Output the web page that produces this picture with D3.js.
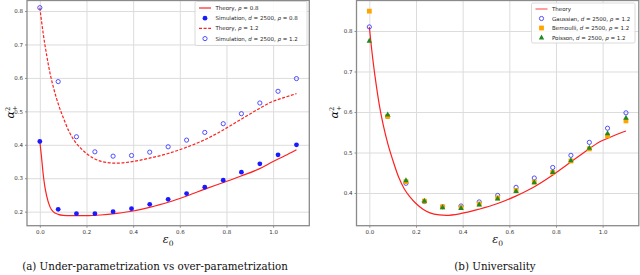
<!DOCTYPE html>
<html>
<head>
<meta charset="utf-8">
<script src="https://cdn.jsdelivr.net/npm/d3@7"></script>
<style>
  body { margin: 0; background: #fff; }
  svg { display: block; }
  .tick text { font-family: "DejaVu Sans", sans-serif; font-size: 5.5px; fill: #333; }
  .tick line { stroke: #444; stroke-width: 0.6; }
  .grid line { stroke: #dcdcdc; stroke-width: 1; }
  .legend text { font-family: "DejaVu Sans", sans-serif; font-size: 5.5px; fill: #222; }
</style>
</head>
<body>
<svg id="fig" width="640" height="275"></svg>
<script>
/*******************************/
/*            Data             */
/*******************************/

var eps = [0, 0.0786, 0.157, 0.236, 0.314, 0.393, 0.471, 0.55, 0.629, 0.707, 0.786, 0.864, 0.943, 1.021, 1.1];

var sim_08   = [0.41, 0.207, 0.194, 0.194, 0.200, 0.209, 0.222, 0.237, 0.254, 0.273, 0.294, 0.318, 0.343, 0.370, 0.400];
var gaussian = [0.81, 0.589, 0.424, 0.379, 0.366, 0.368, 0.378, 0.394, 0.414, 0.437, 0.463, 0.493, 0.525, 0.560, 0.598];
var bernoulli = [0.849, 0.589, 0.428, 0.380, 0.366, 0.364, 0.373, 0.388, 0.406, 0.427, 0.451, 0.479, 0.509, 0.541, 0.578];
var poisson  = [0.776, 0.594, 0.432, 0.381, 0.365, 0.363, 0.372, 0.387, 0.405, 0.427, 0.452, 0.481, 0.512, 0.548, 0.586];

var theory_x_08 = [0, 0.007, 0.014, 0.021, 0.029, 0.043, 0.057, 0.079, 0.1, 0.13, 0.2, 0.26, 0.33, 0.4, 0.47, 0.55, 0.63, 0.71, 0.79, 0.86, 0.94, 1.0, 1.05, 1.1];
var theory_y_08 = [0.41, 0.365, 0.315, 0.277, 0.248, 0.215, 0.200, 0.192, 0.189, 0.188, 0.188, 0.190, 0.195, 0.202, 0.213, 0.228, 0.247, 0.268, 0.288, 0.306, 0.328, 0.350, 0.367, 0.385];

var theory_x_12 = [0, 0.015, 0.03, 0.045, 0.06, 0.08, 0.1, 0.125, 0.15, 0.175, 0.2, 0.23, 0.26, 0.3, 0.33, 0.39, 0.47, 0.55, 0.63, 0.7, 0.78, 0.85, 0.92, 0.99, 1.05, 1.1];
var theory_y_12 = [0.81, 0.73, 0.665, 0.61, 0.567, 0.52, 0.482, 0.44, 0.41, 0.39, 0.374, 0.36, 0.351, 0.346, 0.345, 0.349, 0.36, 0.374, 0.393, 0.413, 0.442, 0.471, 0.50, 0.527, 0.542, 0.553];

var x_ticks = [0, 0.2, 0.4, 0.6, 0.8, 1.0];
var y_ticks_a = [0.2, 0.3, 0.4, 0.5, 0.6, 0.7, 0.8];
var y_ticks_b = [0.4, 0.5, 0.6, 0.7, 0.8];

var caption_a = "(a) Under-parametrization vs over-parametrization";
var caption_b = "(b) Universality";

/*******************************/
/*        Panel helpers        */
/*******************************/

var svg = d3.select("#fig");
var fmt = d3.format(".1f");

function make_panel(opt) {
  var x = d3.scaleLinear().domain([-0.055, 1.155]).range([opt.left, opt.right]);
  var y = d3.scaleLinear().domain(opt.ydomain).range([opt.bottom, opt.top]);
  var g = svg.append("g");
  var top = Math.max(opt.top, 0.5);

  // grid
  g.append("g").attr("class", "grid")
    .attr("transform", "translate(0," + opt.bottom + ")")
    .call(d3.axisBottom(x).tickValues(x_ticks).tickSize(-(opt.bottom - top)).tickFormat(""))
    .call(function(s) { s.select(".domain").remove(); });
  g.append("g").attr("class", "grid")
    .attr("transform", "translate(" + opt.left + ",0)")
    .call(d3.axisLeft(y).tickValues(opt.yticks).tickSize(-(opt.right - opt.left)).tickFormat(""))
    .call(function(s) { s.select(".domain").remove(); });

  // axes
  g.append("g")
    .attr("transform", "translate(0," + opt.bottom + ")")
    .call(d3.axisBottom(x).tickValues(x_ticks).tickSize(2).tickPadding(2).tickFormat(fmt))
    .call(function(s) { s.select(".domain").remove(); });
  g.append("g")
    .attr("transform", "translate(" + opt.left + ",0)")
    .call(d3.axisLeft(y).tickValues(opt.yticks).tickSize(2).tickPadding(2).tickFormat(fmt))
    .call(function(s) { s.select(".domain").remove(); });

  // frame
  g.append("rect")
    .attr("x", opt.left).attr("y", top)
    .attr("width", opt.right - opt.left).attr("height", opt.bottom - top)
    .attr("fill", "none").attr("stroke", "#8a8a8a").attr("stroke-width", 1.3);

  // y label  alpha^2_+
  var yl = g.append("text")
    .attr("transform", "translate(" + opt.ylabel_x + "," + opt.ylabel_y + ") rotate(-90)")
    .attr("text-anchor", "middle")
    .style("font-family", "DejaVu Serif, serif").style("font-style", "italic")
    .style("font-size", "11px").attr("fill", "#111");
  yl.append("tspan").text("α");
  yl.append("tspan").attr("dy", -4).style("font-size", "6.5px").style("font-style", "normal").text("2");
  yl.append("tspan").attr("dx", -4).attr("dy", 7).style("font-size", "6.5px").style("font-style", "normal").text("+");

  // x label epsilon_0
  var xl = g.append("text")
    .attr("x", (opt.left + opt.right) / 2).attr("y", 243)
    .attr("text-anchor", "middle")
    .style("font-family", "DejaVu Serif, serif").style("font-style", "italic")
    .style("font-size", "11px").attr("fill", "#111");
  xl.append("tspan").text("ε");
  xl.append("tspan").attr("dy", 2.5).style("font-size", "7.5px").style("font-style", "normal").text("0");

  // caption
  svg.append("text")
    .attr("x", opt.caption_x).attr("y", 270)
    .attr("text-anchor", "middle")
    .style("font-family", "DejaVu Serif, serif").style("font-size", "10.3px")
    .attr("fill", "#111")
    .text(opt.caption);

  return { g: g, x: x, y: y };
}

function theory_path(p, xs, ys, dash) {
  var line = d3.line()
    .x(function(d) { return p.x(d[0]); })
    .y(function(d) { return p.y(d[1]); })
    .curve(d3.curveMonotoneX);
  p.g.append("path")
    .datum(d3.zip(xs, ys))
    .attr("d", line)
    .attr("fill", "none")
    .attr("stroke", "#ff2020")
    .attr("stroke-width", 1.2)
    .attr("stroke-dasharray", dash ? "3,1.6" : null);
}

function marker(sel, type) {
  if (type == "filled") {
    sel.append("circle").attr("r", 2.4).attr("fill", "#1a1aff");
  } else if (type == "open") {
    sel.append("circle").attr("r", 2.1).attr("fill", "none").attr("stroke", "#3d3dff").attr("stroke-width", 0.9);
  } else if (type == "square") {
    sel.append("rect").attr("x", -2.4).attr("y", -2.4).attr("width", 4.8).attr("height", 4.8).attr("fill", "#ffa500");
  } else if (type == "triangle") {
    sel.append("path").attr("d", "M0,-2.9L2.7,2.1L-2.7,2.1Z").attr("fill", "#1f8a1f");
  }
}

function scatter(p, ys, type) {
  p.g.selectAll(null)
    .data(d3.zip(eps, ys))
    .enter()
    .append("g")
    .attr("transform", function(d) { return "translate(" + p.x(d[0]) + "," + p.y(d[1]) + ")"; })
    .each(function() { marker(d3.select(this), type); });
}

// label entries: [plain, italic, plain, italic, plain]
function legend(p, box, items) {
  var lg = p.g.append("g").attr("class", "legend");
  lg.append("rect")
    .attr("x", box.x).attr("y", box.y).attr("width", box.w).attr("height", box.h)
    .attr("rx", 1.5).attr("fill", "#fff").attr("fill-opacity", 0.85)
    .attr("stroke", "#d0d0d0").attr("stroke-width", 0.8);
  items.forEach(function(it, i) {
    var cy = box.y + box.first + i * box.step;
    var hx0 = box.x + 4, hx1 = box.x + 16;
    if (it.type == "line" || it.type == "dash") {
      lg.append("line")
        .attr("x1", hx0).attr("x2", hx1).attr("y1", cy).attr("y2", cy)
        .attr("stroke", it.color || "#ff2020").attr("stroke-width", 1.2)
        .attr("stroke-dasharray", it.type == "dash" ? "3,1.6" : null);
    } else {
      marker(lg.append("g").attr("transform", "translate(" + (hx0 + hx1) / 2 + "," + cy + ")"), it.type);
    }
    var t = lg.append("text").attr("x", box.x + 20.5).attr("y", cy + 2);
    it.label.forEach(function(part, k) {
      t.append("tspan").style("font-style", k % 2 ? "italic" : "normal").text(part);
    });
  });
}

/*******************************/
/*        Panel (a)            */
/*******************************/

var pa = make_panel({
  left: 27, right: 309.3, top: -3, bottom: 225.7,
  ydomain: [0.158, 0.842], yticks: y_ticks_a,
  ylabel_x: 14, ylabel_y: 112,
  caption: caption_a, caption_x: 155
});

theory_path(pa, theory_x_08, theory_y_08, false);
theory_path(pa, theory_x_12, theory_y_12, true);
scatter(pa, sim_08, "filled");
scatter(pa, gaussian, "open");

legend(pa, { x: 195, y: 1.5, w: 112, h: 44, first: 6.5, step: 10.2 }, [
  { type: "line", label: ["Theory, ", "ρ", " = 0.8"] },
  { type: "filled", label: ["Simulation, ", "d", " = 2500, ", "ρ", " = 0.8"] },
  { type: "dash", label: ["Theory, ", "ρ", " = 1.2"] },
  { type: "open", label: ["Simulation, ", "d", " = 2500, ", "ρ", " = 1.2"] }
]);

/*******************************/
/*        Panel (b)            */
/*******************************/

var pb = make_panel({
  left: 356.5, right: 638.8, top: 0, bottom: 225.7,
  ydomain: [0.3193, 0.8765], yticks: y_ticks_b,
  ylabel_x: 338, ylabel_y: 112,
  caption: caption_b, caption_x: 495
});

theory_path(pb, theory_x_12, theory_y_12, false);
scatter(pb, gaussian, "open");
scatter(pb, bernoulli, "square");
scatter(pb, poisson, "triangle");

legend(pb, { x: 531.5, y: 3, w: 103.5, h: 40, first: 6, step: 9.5 }, [
  { type: "line", color: "#ff6060", label: ["Theory"] },
  { type: "open", label: ["Gaussian, ", "d", " = 2500, ", "ρ", " = 1.2"] },
  { type: "square", label: ["Bernoulli, ", "d", " = 2500, ", "ρ", " = 1.2"] },
  { type: "triangle", label: ["Poisson, ", "d", " = 2500, ", "ρ", " = 1.2"] }
]);
</script>
</body>
</html>
